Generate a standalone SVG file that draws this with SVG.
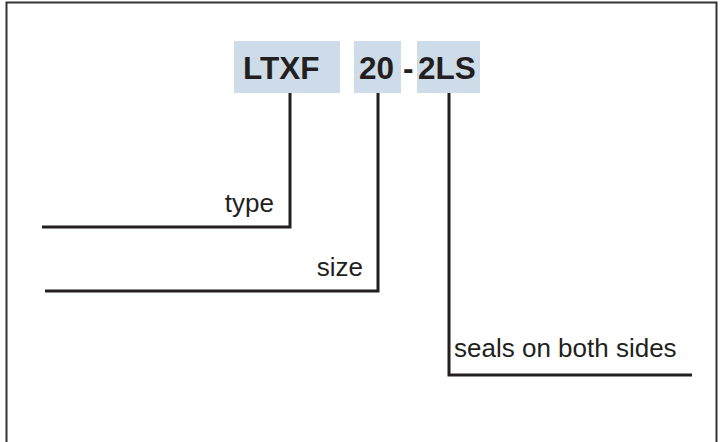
<svg xmlns="http://www.w3.org/2000/svg" width="721" height="442" viewBox="0 0 721 442">
<style>
.box{fill:#cddce8}
.code{font-family:"Liberation Sans",Arial,sans-serif;font-weight:bold;font-size:31.5px;fill:#231f20}
.lbl{font-family:"Liberation Sans",Arial,sans-serif;font-size:26px;fill:#231f20}
.ln{fill:none;stroke:#231f20;stroke-width:3}
</style>
<rect x="0" y="0" width="721" height="442" fill="#fff"/>
<rect x="6.5" y="2.5" width="710" height="450" fill="none" stroke="#333" stroke-width="2"/>
<g id="code-ltxf"><rect class="box" x="234" y="41" width="106" height="52"/><text class="code" x="243" y="79">LTXF</text></g>
<g id="code-20"><rect class="box" x="354" y="41" width="47" height="52"/><text class="code" x="359" y="79">20</text></g>
<g id="dash"><text class="code" x="403" y="79">-</text></g>
<g id="code-2ls"><rect class="box" x="417" y="41" width="63" height="52"/><text class="code" x="418" y="79">2LS</text></g>
<g id="connectors">
<polyline class="ln" points="290,93 290,227 42,227"/>
<polyline class="ln" points="378,93 378,291 45,291"/>
<polyline class="ln" points="449,93 449,375 692,375"/>
</g>
<g id="label-type"><text class="lbl" x="274" y="212" text-anchor="end">type</text></g>
<g id="label-size"><text class="lbl" x="363" y="276" text-anchor="end">size</text></g>
<g id="label-seals"><text class="lbl" x="454" y="357">seals on both sides</text></g>
</svg>
